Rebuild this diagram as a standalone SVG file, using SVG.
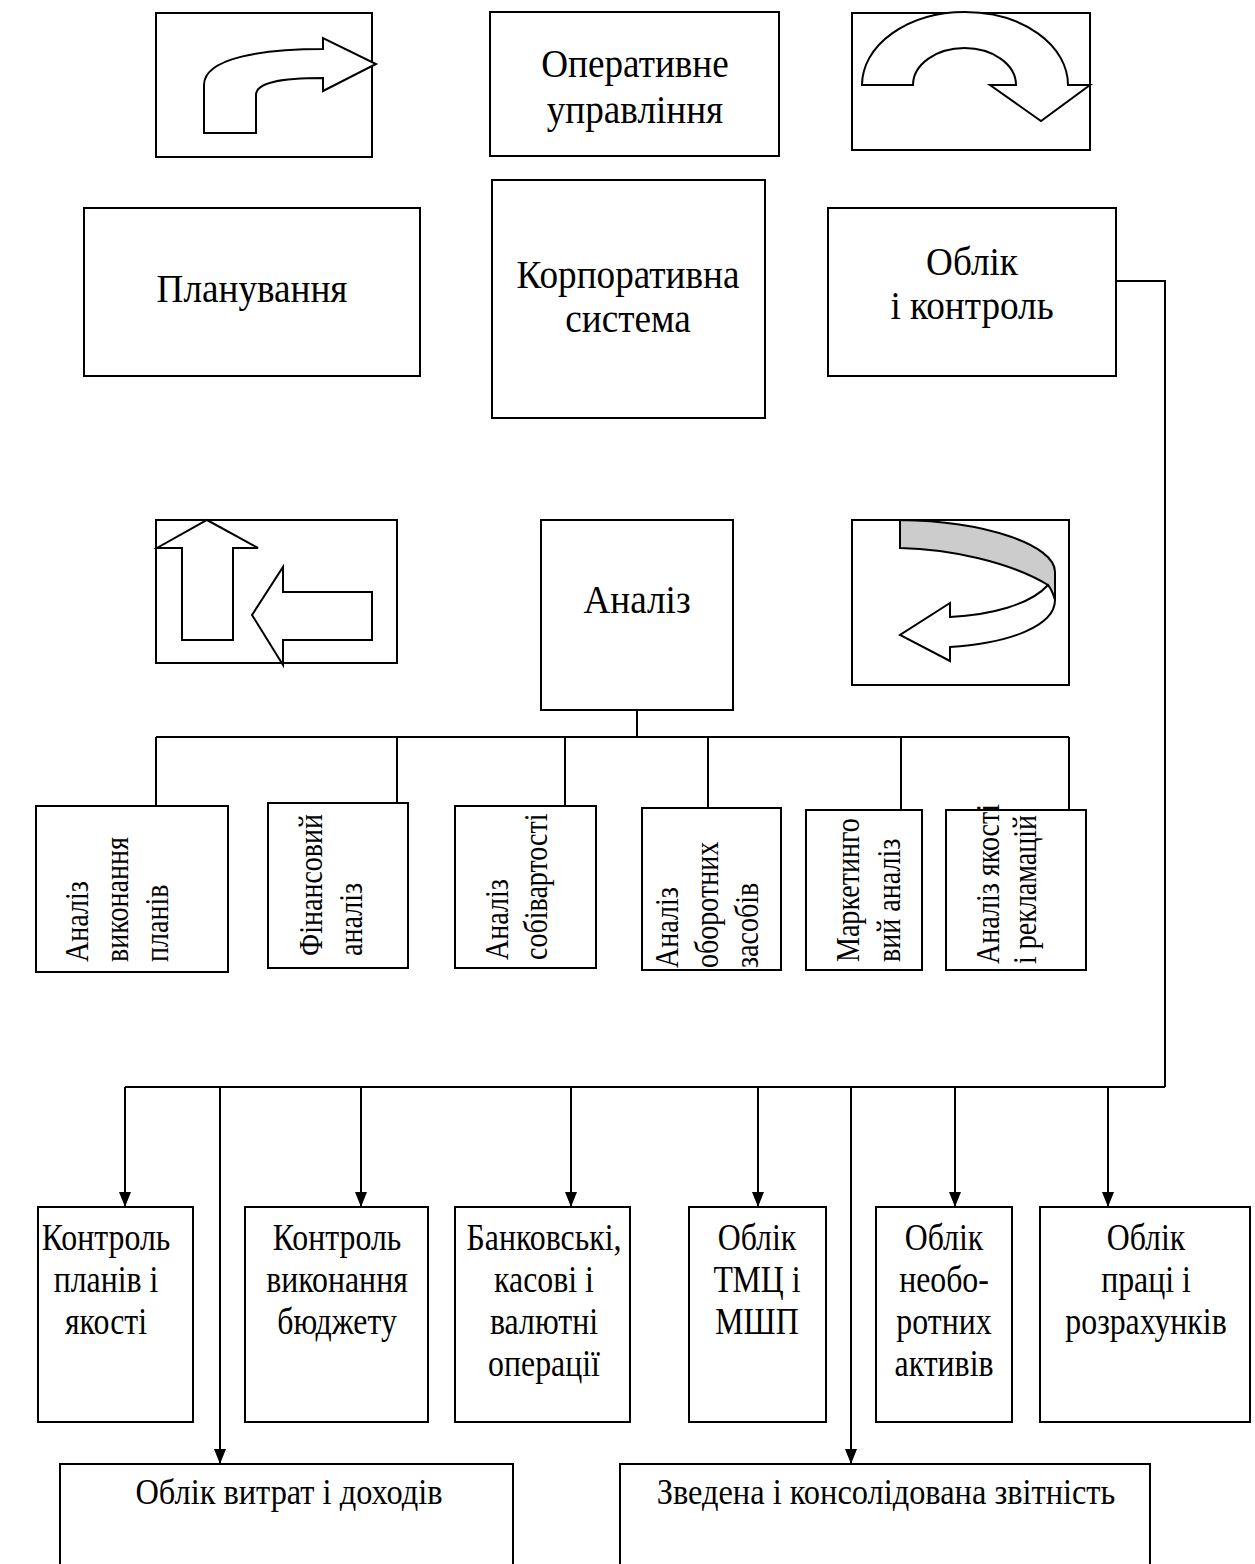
<svg xmlns="http://www.w3.org/2000/svg" width="1255" height="1564" viewBox="0 0 1255 1564">
<style>
.b{fill:#fff;stroke:#000;stroke-width:2}
.s{fill:#fff;stroke:#000;stroke-width:2;stroke-linejoin:miter}
.t{font-family:"Liberation Serif","Times New Roman",serif;fill:#000}
.big{font-size:40px;text-anchor:middle}
.mid{font-size:37px;text-anchor:middle}
.wide{font-size:36px;text-anchor:middle}
.v{font-size:33px}
.c{fill:none;stroke:#000;stroke-width:2}
</style>
<defs>
<marker id="ah" markerWidth="16" markerHeight="12" refX="15" refY="6" orient="auto" markerUnits="userSpaceOnUse" viewBox="0 0 16 12">
<path d="M0,0 L15,6 L0,12 Z" fill="#000"/>
</marker>
</defs>
<rect width="1255" height="1564" fill="#fff"/>

<g id="icon-bent">
<rect class="b" x="156" y="13" width="216" height="144"/>
<path class="s" d="M204,133 L204,85 C204,58 262,49 323,49 L323,38 L376,64 L323,91 L323,78 C282,78 256,82 256,95 L256,133 Z"/>
</g>
<g id="operative">
<rect class="b" x="490" y="12" width="289" height="144"/>
<text class="t big" transform="translate(635,77) scale(0.93,1)">Оперативне</text>
<text class="t big" transform="translate(635,123) scale(0.93,1)">управління</text>
</g>
<g id="icon-uturn">
<rect class="b" x="852" y="13" width="238" height="137"/>
<path class="s" d="M862,85 A103,73 0 0 1 1068,85 L1090,85 L1041,121 L990,85 L1016,85 A51.5,37 0 0 0 913,85 Z"/>
</g>

<g id="planning">
<rect class="b" x="84" y="208" width="336" height="168"/>
<text class="t big" transform="translate(252,302) scale(0.93,1)">Планування</text>
</g>
<g id="corporate">
<rect class="b" x="492" y="180" width="273" height="238"/>
<text class="t big" transform="translate(628,288) scale(0.93,1)">Корпоративна</text>
<text class="t big" transform="translate(628,332) scale(0.93,1)">система</text>
</g>
<g id="accounting">
<rect class="b" x="828" y="208" width="288" height="168"/>
<text class="t big" transform="translate(972,275) scale(0.93,1)">Облік</text>
<text class="t big" transform="translate(972,319) scale(0.93,1)">і контроль</text>
</g>

<g id="icon-arrows">
<rect class="b" x="156" y="520" width="241" height="143"/>
<path class="s" d="M207,520 L258,548 L233,548 L233,640 L182,640 L182,548 L157,548 Z"/>
<path class="s" d="M252,615 L283,567 L283,592 L372,592 L372,640 L283,640 L283,665 Z"/>
</g>
<g id="analysis">
<rect class="b" x="541" y="520" width="192" height="190"/>
<text class="t big" transform="translate(637,613) scale(0.93,1)">Аналіз</text>
</g>
<g id="icon-curved">
<rect class="b" x="852" y="520" width="217" height="165"/>
<path d="M900,520 C985,521 1055,545 1055,572 L1055,600 C1053,593 1051,589 1048,585 C1010,562 950,549 900,548 Z" fill="#cccccc" stroke="#000" stroke-width="2"/>
<path class="s" d="M1048,585 C1030,605 990,615 950,617 L950,603 L900,635 L950,661 L950,647 C1012,643 1055,625 1055,600 C1053,593 1051,589 1048,585 Z"/>
</g>

<g id="a1">
<rect class="b" x="36" y="806" width="192" height="166"/>
<text class="t v" transform="translate(88,962) rotate(-90) scale(0.85,1)">Аналіз</text>
<text class="t v" transform="translate(128,962) rotate(-90) scale(0.85,1)">виконання</text>
<text class="t v" transform="translate(168,962) rotate(-90) scale(0.85,1)">планів</text>
</g>
<g id="a2">
<rect class="b" x="268" y="803" width="140" height="165"/>
<text class="t v" transform="translate(322,956) rotate(-90) scale(0.85,1)">Фінансовий</text>
<text class="t v" transform="translate(362,956) rotate(-90) scale(0.85,1)">аналіз</text>
</g>
<g id="a3">
<rect class="b" x="455" y="806" width="141" height="162"/>
<text class="t v" transform="translate(508,960) rotate(-90) scale(0.85,1)">Аналіз</text>
<text class="t v" transform="translate(547,960) rotate(-90) scale(0.85,1)">собівартості</text>
</g>
<g id="a4">
<rect class="b" x="642" y="808" width="139" height="162"/>
<text class="t v" transform="translate(678,968) rotate(-90) scale(0.85,1)">Аналіз</text>
<text class="t v" transform="translate(718,968) rotate(-90) scale(0.85,1)">оборотних</text>
<text class="t v" transform="translate(758,968) rotate(-90) scale(0.85,1)">засобів</text>
</g>
<g id="a5">
<rect class="b" x="806" y="810" width="116" height="160"/>
<text class="t v" transform="translate(859,962) rotate(-90) scale(0.85,1)">Маркетинго</text>
<text class="t v" transform="translate(900,962) rotate(-90) scale(0.85,1)">вий аналіз</text>
</g>
<g id="a6">
<rect class="b" x="946" y="810" width="140" height="160"/>
<text class="t v" transform="translate(999,964) rotate(-90) scale(0.85,1)">Аналіз якості</text>
<text class="t v" transform="translate(1036,964) rotate(-90) scale(0.85,1)">і рекламацій</text>
</g>

<g id="k1">
<rect class="b" x="38" y="1207" width="155" height="215"/>
<text class="t mid" transform="translate(106,1250) scale(0.86,1)">Контроль</text>
<text class="t mid" transform="translate(106,1292) scale(0.86,1)">планів і</text>
<text class="t mid" transform="translate(106,1334) scale(0.86,1)">якості</text>
</g>
<g id="k2">
<rect class="b" x="245" y="1207" width="183" height="215"/>
<text class="t mid" transform="translate(337,1250) scale(0.86,1)">Контроль</text>
<text class="t mid" transform="translate(337,1292) scale(0.86,1)">виконання</text>
<text class="t mid" transform="translate(337,1334) scale(0.86,1)">бюджету</text>
</g>
<g id="k3">
<rect class="b" x="455" y="1207" width="175" height="215"/>
<text class="t mid" transform="translate(544,1250) scale(0.86,1)">Банковські,</text>
<text class="t mid" transform="translate(544,1292) scale(0.86,1)">касові і</text>
<text class="t mid" transform="translate(544,1334) scale(0.86,1)">валютні</text>
<text class="t mid" transform="translate(544,1376) scale(0.86,1)">операції</text>
</g>
<g id="k4">
<rect class="b" x="689" y="1207" width="137" height="215"/>
<text class="t mid" transform="translate(757,1250) scale(0.86,1)">Облік</text>
<text class="t mid" transform="translate(757,1292) scale(0.86,1)">ТМЦ і</text>
<text class="t mid" transform="translate(757,1334) scale(0.86,1)">МШП</text>
</g>
<g id="k5">
<rect class="b" x="876" y="1207" width="136" height="215"/>
<text class="t mid" transform="translate(944,1250) scale(0.86,1)">Облік</text>
<text class="t mid" transform="translate(944,1292) scale(0.86,1)">необо-</text>
<text class="t mid" transform="translate(944,1334) scale(0.86,1)">ротних</text>
<text class="t mid" transform="translate(944,1376) scale(0.86,1)">активів</text>
</g>
<g id="k6">
<rect class="b" x="1040" y="1207" width="210" height="215"/>
<text class="t mid" transform="translate(1146,1250) scale(0.86,1)">Облік</text>
<text class="t mid" transform="translate(1146,1292) scale(0.86,1)">праці і</text>
<text class="t mid" transform="translate(1146,1334) scale(0.86,1)">розрахунків</text>
</g>
<g id="costs">
<rect class="b" x="60" y="1464" width="453" height="120"/>
<text class="t wide" transform="translate(289,1504) scale(0.9,1)">Облік витрат і доходів</text>
</g>
<g id="reports">
<rect class="b" x="620" y="1464" width="530" height="120"/>
<text class="t wide" transform="translate(886,1504) scale(0.9,1)">Зведена і консолідована звітність</text>
</g>

<g id="connectors">
<path class="c" d="M637,710 V737 M156,737 H1069 M156,737 V806 M397,737 V803 M565,737 V806 M708,737 V808 M901,737 V810 M1069,737 V810"/>
<path class="c" d="M1116,281 H1165 V1087 M125,1087 H1165"/>
<path class="c" marker-end="url(#ah)" d="M125,1087 V1207"/>
<path class="c" marker-end="url(#ah)" d="M361,1087 V1207"/>
<path class="c" marker-end="url(#ah)" d="M571,1087 V1207"/>
<path class="c" marker-end="url(#ah)" d="M758,1087 V1207"/>
<path class="c" marker-end="url(#ah)" d="M955,1087 V1207"/>
<path class="c" marker-end="url(#ah)" d="M1108,1087 V1207"/>
<path class="c" marker-end="url(#ah)" d="M220,1087 V1464"/>
<path class="c" marker-end="url(#ah)" d="M851,1087 V1464"/>
</g>
</svg>
